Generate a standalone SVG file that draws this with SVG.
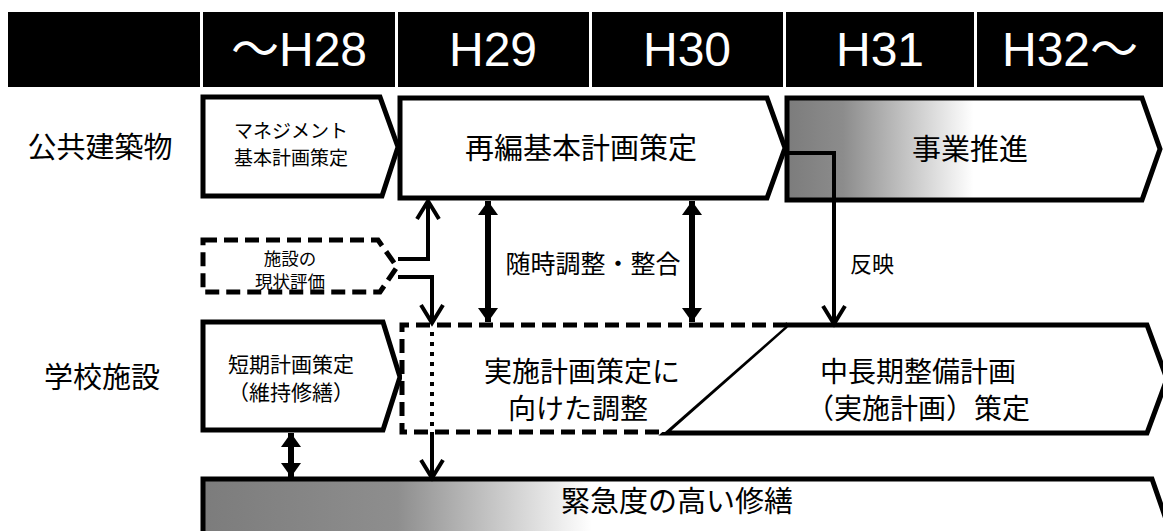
<svg xmlns="http://www.w3.org/2000/svg" width="1163" height="531" viewBox="0 0 1163 531">
<defs>
<style>
.cell{fill:#000}
.hdr{font-family:"Liberation Sans","Noto Sans CJK JP",sans-serif;font-size:48px;fill:#fff;text-anchor:middle}
.box{fill:#fff;stroke:#000;stroke-width:5;stroke-linejoin:miter}
.dash{fill:#fff;stroke:#000;stroke-width:5;stroke-dasharray:14 7}
.t{font-family:"Noto Sans CJK JP",sans-serif;fill:#000;text-anchor:middle}
.lbl{font-size:29px}
.conn{fill:none;stroke:#000;stroke-width:4}
.thick{fill:none;stroke:#000;stroke-width:6}
.dot{fill:none;stroke:#000;stroke-width:4;stroke-dasharray:4 6}
</style>
<linearGradient id="g1" x1="0" y1="0" x2="1" y2="0">
<stop offset="0" stop-color="#7c7c7c"/>
<stop offset="0.15" stop-color="#8c8c8c"/>
<stop offset="0.5" stop-color="#fff"/>
<stop offset="1" stop-color="#fff"/>
</linearGradient>
<linearGradient id="g2" x1="0" y1="0" x2="1" y2="0">
<stop offset="0" stop-color="#7c7c7c"/>
<stop offset="0.2" stop-color="#8e8e8e"/>
<stop offset="0.4" stop-color="#fff"/>
<stop offset="1" stop-color="#fff"/>
</linearGradient>
<marker id="chev" viewBox="-22 -14 26 28" markerWidth="26" markerHeight="28" refX="0" refY="0" orient="auto" markerUnits="userSpaceOnUse">
<path d="M-18,-11 L0,0 L-18,11" fill="none" stroke="#000" stroke-width="4"/>
</marker>
<marker id="tri" viewBox="-16 -12 18 24" markerWidth="18" markerHeight="24" refX="0" refY="0" orient="auto-start-reverse" markerUnits="userSpaceOnUse">
<path d="M0,0 L-14,-10 L-14,10 Z" fill="#000"/>
</marker>
</defs>
<rect width="1163" height="531" fill="#fff"/>

<g id="header">
<rect class="cell" x="8" y="12" width="192" height="75"/>
<rect class="cell" x="203" y="12" width="192" height="75"/>
<rect class="cell" x="398" y="12" width="191" height="75"/>
<rect class="cell" x="592" y="12" width="191" height="75"/>
<rect class="cell" x="786" y="12" width="188" height="75"/>
<rect class="cell" x="977" y="12" width="186" height="75"/>
<text class="hdr" x="299" y="66">～H28</text>
<text class="hdr" x="493" y="66">H29</text>
<text class="hdr" x="687" y="66">H30</text>
<text class="hdr" x="880" y="66">H31</text>
<text class="hdr" x="1070" y="66">H32～</text>
</g>

<g id="row-labels">
<text class="t lbl" x="100" y="158">公共建築物</text>
<text class="t lbl" x="102" y="388">学校施設</text>
</g>

<g id="management">
<polygon class="box" points="203,97 380,97 398,147 382,196 203,196"/>
<text class="t" font-size="19" x="291" y="138">マネジメント</text>
<text class="t" font-size="19" x="291" y="165">基本計画策定</text>
</g>

<g id="saihen">
<polygon class="box" points="400,98 767,98 785,148 767,198 400,198"/>
<text class="t lbl" x="581" y="159">再編基本計画策定</text>
</g>

<g id="jigyo">
<polygon class="box" points="787,98 1142,98 1160,149 1142,200 787,200" style="fill:url(#g1)"/>
<text class="t lbl" x="970" y="160">事業推進</text>
</g>

<g id="shisetsu">
<polygon class="dash" points="203,240 378,240 397,267 380,292 203,292"/>
<text class="t" font-size="17.5" x="290" y="264.5">施設の</text>
<text class="t" font-size="17.5" x="290" y="288">現状評価</text>
</g>

<g id="tanki">
<polygon class="box" points="203,322 383,322 400,377 383,430 203,430"/>
<text class="t" font-size="21" x="291" y="372">短期計画策定</text>
<text class="t" font-size="21" x="291" y="400">（維持修繕）</text>
</g>

<g id="chochoki">
<polygon class="box" points="787,325 1147,325 1167,379 1147,433 665,433"/>
<text class="t" font-size="28" x="918" y="382">中長期整備計画</text>
<text class="t" font-size="28" x="918" y="419">（実施計画）策定</text>
</g>

<g id="jisshi">
<path class="dash" d="M787,325 L402,325 L402,432 L665,432" fill="#fff"/>
<text class="t" font-size="28" x="582" y="382">実施計画策定に</text>
<text class="t" font-size="28" x="578" y="419">向けた調整</text>
</g>

<g id="kinkyu">
<polygon class="box" points="203,479 1152,479 1175,545 203,545" style="fill:url(#g2)"/>
<text class="t lbl" x="677" y="512">緊急度の高い修繕</text>
</g>

<g id="connectors">
<polyline class="conn" points="398,259 428,259 428,201" marker-end="url(#chev)"/>
<polyline class="conn" points="398,277 432,277 432,323" marker-end="url(#chev)"/>
<line class="dot" x1="432" y1="332" x2="432" y2="430"/>
<line class="conn" x1="432" y1="432" x2="432" y2="478" marker-end="url(#chev)"/>
<line class="thick" x1="488" y1="201" x2="488" y2="322" marker-start="url(#tri)" marker-end="url(#tri)"/>
<line class="thick" x1="692" y1="201" x2="692" y2="322" marker-start="url(#tri)" marker-end="url(#tri)"/>
<line class="thick" x1="291" y1="433" x2="291" y2="477" marker-start="url(#tri)" marker-end="url(#tri)"/>
<polyline class="conn" points="787,153 834,153 834,324" marker-end="url(#chev)"/>
<text class="t" font-size="25" x="593" y="273">随時調整・整合</text>
<text class="t" font-size="22" x="872" y="272">反映</text>
</g>
</svg>
